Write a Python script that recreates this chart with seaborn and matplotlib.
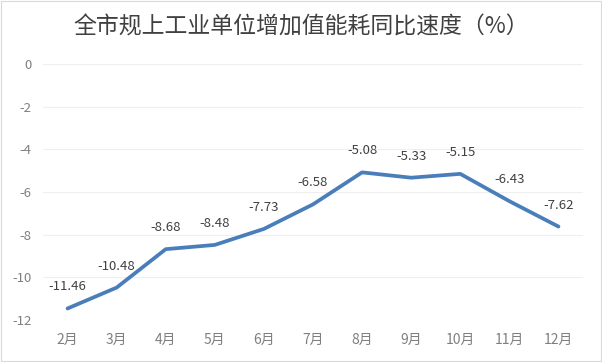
import matplotlib
matplotlib.use("Agg")
import matplotlib.pyplot as plt
import seaborn as sns
import pandas as pd

months = ["2月", "3月", "4月", "5月", "6月", "7月", "8月", "9月", "10月", "11月", "12月"]
values = [-11.46, -10.48, -8.68, -8.48, -7.73, -6.58, -5.08, -5.33, -5.15, -6.43, -7.62]
yticks = [0, -2, -4, -6, -8, -10, -12]
title = "全市规上工业单位增加值能耗同比速度（%）"

sns.set_style("white")
plt.rcParams["font.family"] = ["Noto Sans CJK SC", "DejaVu Sans"]

df = pd.DataFrame({"month": months, "value": values})

fig = plt.figure(figsize=(6.02, 3.62), dpi=100)
ax = fig.add_axes([43 / 602, 1 - 320 / 362, 540 / 602, 256 / 362])

sns.lineplot(data=df, x="month", y="value", ax=ax, color="#4a7ebb",
             linewidth=2.7, sort=False, solid_capstyle="round")

for i, v in enumerate(values):
    ax.annotate(f"{v:.2f}", (i, v), xytext=(0, 15.5), textcoords="offset points",
                ha="center", va="center", fontsize=9.5, color="#404040")

ax.set_xlim(-0.5, len(months) - 0.5)
ax.set_ylim(-12, 0)
ax.set_yticks(yticks)
ax.set_yticklabels([str(t) for t in yticks])
ax.grid(axis="y", color="#efefef", linewidth=0.8)
ax.set_axisbelow(True)
for s in ax.spines.values():
    s.set_visible(False)
ax.tick_params(axis="both", length=0, labelsize=9.5, labelcolor="#7f7f7f")
ax.tick_params(axis="x", labelsize=10, pad=9)
ax.tick_params(axis="y", pad=8)
ax.set_xlabel("")
ax.set_ylabel("")

fig.text(0.5, 1 - 27 / 362, title, ha="center", va="center", fontsize=16.5, color="#404040")

border = plt.Rectangle((0.002, 0.002), 0.996, 0.996, transform=fig.transFigure,
                       fill=False, edgecolor="#d9d9d9", linewidth=0.8)
fig.patches.append(border)

fig.savefig("out.png", dpi=100)
